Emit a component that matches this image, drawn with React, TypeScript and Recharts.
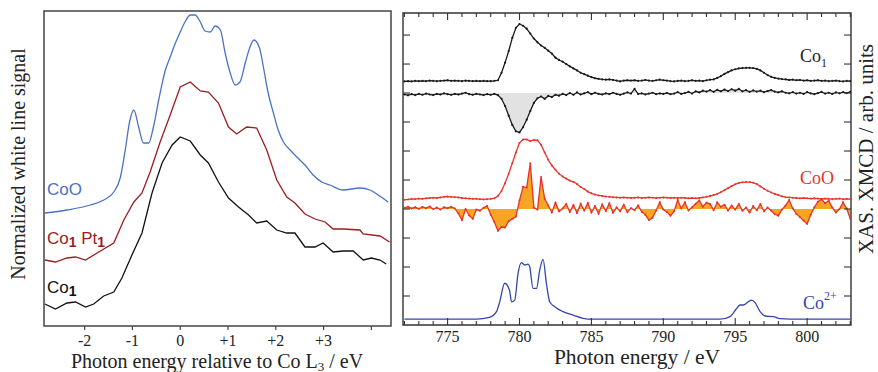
import React from 'react';
import { LineChart, ComposedChart, Line, Area, XAxis, YAxis, ReferenceArea } from 'recharts';

const SERIF = '"Liberation Serif", "Times New Roman", serif';
const SANS = '"Liberation Sans", Arial, sans-serif';

// ---------- Left panel: white line signal vs energy relative to Co L3 ----------
const leftDomainX = [-2.85, 4.41];
const leftDomainY = [0, 3.15];
const leftTicks = [-2, -1, 0, 1, 2, 3, 4];

const coOShift = [-2.83, -2.37, -1.88, -1.6, -1.39, -1.25, -1.15, -1.06, -0.97, -0.87, -0.77, -0.66, -0.56, -0.45, -0.31, -0.21, -0.1, 0, 0.1, 0.21, 0.31, 0.42, 0.52, 0.63, 0.73, 0.84, 0.94, 1.04, 1.15, 1.25, 1.36, 1.46, 1.54, 1.66, 1.74, 1.84, 1.95, 2.05, 2.16, 2.3, 2.44, 2.61, 2.78, 2.96, 3.13, 3.41, 3.76, 3.97, 4.14, 4.35];
const coOSignal = [1.13, 1.16, 1.21, 1.26, 1.34, 1.49, 1.76, 2.04, 2.16, 1.99, 1.83, 1.83, 1.99, 2.26, 2.56, 2.69, 2.83, 2.94, 3.04, 3.11, 3.11, 3.04, 2.95, 2.94, 3.0, 2.96, 2.73, 2.54, 2.41, 2.44, 2.63, 2.79, 2.86, 2.78, 2.59, 2.33, 2.13, 1.96, 1.84, 1.76, 1.69, 1.61, 1.51, 1.44, 1.41, 1.36, 1.38, 1.36, 1.31, 1.24];

const coPtShift = [-2.83, -2.61, -2.37, -2.19, -1.98, -1.74, -1.39, -1.18, -0.97, -0.8, -0.63, -0.42, -0.21, 0, 0.21, 0.42, 0.59, 0.8, 1.01, 1.18, 1.39, 1.6, 1.81, 2.02, 2.23, 2.4, 2.61, 2.82, 3.03, 3.2, 3.41, 3.76, 3.83, 4.18, 4.38];
const coPtSignal = [0.66, 0.64, 0.68, 0.69, 0.66, 0.73, 0.83, 1.06, 1.24, 1.33, 1.54, 1.84, 2.11, 2.39, 2.44, 2.35, 2.34, 2.23, 1.99, 1.92, 1.99, 1.98, 1.76, 1.46, 1.29, 1.23, 1.12, 1.07, 1.04, 0.97, 0.97, 0.96, 0.92, 0.9, 0.84];

const co1Shift = [-2.83, -2.61, -2.37, -2.19, -1.98, -1.81, -1.6, -1.39, -1.22, -1.01, -0.8, -0.59, -0.38, -0.17, 0, 0.21, 0.42, 0.59, 0.8, 1.01, 1.22, 1.43, 1.6, 1.81, 2.02, 2.23, 2.4, 2.61, 2.82, 2.99, 3.2, 3.41, 3.62, 3.83, 4.0, 4.18, 4.31];
const co1Signal = [0.22, 0.17, 0.23, 0.24, 0.19, 0.22, 0.3, 0.34, 0.48, 0.71, 0.93, 1.33, 1.63, 1.81, 1.89, 1.85, 1.71, 1.63, 1.44, 1.28, 1.19, 1.11, 1.03, 1.05, 0.96, 0.93, 0.93, 0.79, 0.79, 0.83, 0.74, 0.75, 0.75, 0.66, 0.68, 0.66, 0.62];

// ---------- Right panel: XAS / XMCD vs photon energy ----------
const rightDomainX = [771.9, 803.05];
const rightDomainY = [0, 10.76];

const energyGrid = [
  772, 772.25, 772.5, 772.75, 773, 773.25, 773.5, 773.75,
  774, 774.25, 774.5, 774.75, 775, 775.25, 775.5, 775.75,
  776, 776.25, 776.5, 776.75, 777, 777.25, 777.5, 777.75,
  778, 778.25, 778.5, 778.75, 779, 779.25, 779.5, 779.75,
  780, 780.25, 780.5, 780.75, 781, 781.25, 781.5, 781.75,
  782, 782.25, 782.5, 782.75, 783, 783.25, 783.5, 783.75,
  784, 784.25, 784.5, 784.75, 785, 785.25, 785.5, 785.75,
  786, 786.25, 786.5, 786.75, 787, 787.25, 787.5, 787.75,
  788, 788.25, 788.5, 788.75, 789, 789.25, 789.5, 789.75,
  790, 790.25, 790.5, 790.75, 791, 791.25, 791.5, 791.75,
  792, 792.25, 792.5, 792.75, 793, 793.25, 793.5, 793.75,
  794, 794.25, 794.5, 794.75, 795, 795.25, 795.5, 795.75,
  796, 796.25, 796.5, 796.75, 797, 797.25, 797.5, 797.75,
  798, 798.25, 798.5, 798.75, 799, 799.25, 799.5, 799.75,
  800, 800.25, 800.5, 800.75, 801, 801.25, 801.5, 801.75,
  802, 802.25, 802.5, 802.75, 803,
];

const co1Xas = [
  8.40, 8.41, 8.40, 8.42, 8.41, 8.42, 8.41, 8.43,
  8.42, 8.41, 8.42, 8.43, 8.44, 8.42, 8.43, 8.42,
  8.41, 8.43, 8.42, 8.41, 8.42, 8.41, 8.42, 8.41,
  8.41, 8.42, 8.44, 8.70, 9.05, 9.45, 9.90, 10.25,
  10.38, 10.32, 10.22, 10.05, 9.88, 9.75, 9.64, 9.56,
  9.46, 9.36, 9.22, 9.14, 9.08, 9.00, 8.92, 8.85,
  8.78, 8.70, 8.65, 8.60, 8.55, 8.51, 8.49, 8.47,
  8.46, 8.47, 8.45, 8.43, 8.40, 8.43, 8.44, 8.43,
  8.44, 8.42, 8.43, 8.45, 8.43, 8.42, 8.44, 8.46,
  8.44, 8.43, 8.41, 8.40, 8.42, 8.43, 8.41, 8.42,
  8.44, 8.42, 8.43, 8.41, 8.44, 8.46, 8.47, 8.52,
  8.58, 8.66, 8.72, 8.78, 8.82, 8.85, 8.86, 8.87,
  8.87, 8.86, 8.83, 8.78, 8.70, 8.62, 8.56, 8.52,
  8.50, 8.48, 8.47, 8.45, 8.46, 8.44, 8.45, 8.43,
  8.44, 8.42, 8.43, 8.44, 8.42, 8.43, 8.41, 8.42,
  8.43, 8.41, 8.40, 8.42, 8.41,
];
const co1Xmcd = [
  7.95, 7.92, 7.96, 7.93, 7.97, 7.94, 7.98, 7.95,
  7.93, 7.97, 7.95, 7.99, 7.96, 7.94, 7.97, 7.95,
  7.98, 8.01, 7.96, 7.94, 7.97, 7.95, 7.93, 7.96,
  7.94, 7.97, 7.93, 7.80, 7.55, 7.22, 6.90, 6.68,
  6.64, 6.82, 7.08, 7.38, 7.66, 7.82, 7.88, 7.80,
  7.90, 7.86, 7.94, 7.91, 7.97, 7.93, 8.00, 7.94,
  8.02, 7.95, 7.99, 8.03, 7.96, 8.01, 7.97, 7.95,
  7.99, 7.96, 8.01, 7.97, 7.94, 7.98, 8.02, 7.98,
  8.14, 7.97, 7.99, 7.95, 7.98, 8.01, 7.96, 7.99,
  7.97, 8.00, 7.96, 7.98, 8.03, 7.97, 8.00, 8.04,
  7.98, 8.06, 8.02, 8.08, 8.05, 8.10, 8.04, 8.11,
  8.06, 8.12, 8.07, 8.13, 8.08, 8.14, 8.06, 8.10,
  8.04, 8.09, 8.05, 8.08, 8.03, 8.07, 8.10, 8.05,
  8.02, 8.06, 8.01, 7.99, 8.03, 7.98, 8.01, 7.97,
  8.03, 7.99, 7.96, 8.00, 8.04, 7.98, 8.01, 7.97,
  8.02, 7.99, 8.03, 8.00, 8.04,
];
const coOXas = [
  4.32, 4.33, 4.35, 4.34, 4.36, 4.35, 4.37, 4.38,
  4.39, 4.38, 4.40, 4.42, 4.43, 4.42, 4.41, 4.40,
  4.38, 4.37, 4.36, 4.35, 4.35, 4.34, 4.33, 4.34,
  4.35, 4.37, 4.45, 4.62, 4.90, 5.22, 5.58, 5.95,
  6.28, 6.40, 6.40, 6.34, 6.38, 6.37, 6.22, 5.95,
  5.70, 5.50, 5.35, 5.22, 5.12, 5.05, 4.98, 4.94,
  4.86, 4.76, 4.69, 4.60, 4.54, 4.50, 4.47, 4.45,
  4.43, 4.42, 4.41, 4.40, 4.39, 4.40, 4.39, 4.38,
  4.39, 4.40, 4.38, 4.39, 4.40, 4.39, 4.38, 4.39,
  4.40, 4.39, 4.38, 4.39, 4.38, 4.39, 4.38, 4.37,
  4.38, 4.37, 4.38, 4.40, 4.42, 4.45, 4.48, 4.52,
  4.58, 4.65, 4.72, 4.79, 4.85, 4.90, 4.92, 4.93,
  4.93, 4.91, 4.86, 4.78, 4.70, 4.63, 4.57, 4.52,
  4.48, 4.44, 4.41, 4.40, 4.39, 4.38, 4.37, 4.38,
  4.37, 4.36, 4.37, 4.36, 4.35, 4.36, 4.35, 4.34,
  4.35, 4.36, 4.34, 4.35, 4.34,
];
const coOXmcd = [
  4.04, 4.08, 4.02, 4.06, 4.01, 4.07, 4.03, 4.09,
  4.00, 4.05, 3.98, 4.06, 4.03, 4.08, 4.02, 3.85,
  3.62, 4.00, 3.78, 3.66, 3.98, 3.94, 4.04, 4.11,
  3.80, 3.55, 3.25, 3.38, 3.36, 3.58, 3.66, 3.74,
  4.30, 4.77, 4.74, 5.58, 4.05, 3.98, 5.10, 4.35,
  4.12, 3.88, 4.22, 3.92, 4.02, 4.17, 3.90, 4.14,
  3.86, 4.18, 3.95, 4.21, 3.88, 4.10, 3.84, 4.16,
  3.93, 4.20, 3.87, 4.06, 3.92, 4.15, 3.89, 4.03,
  3.96, 4.12, 3.90, 3.80, 3.62, 3.70, 3.95, 4.23,
  3.98, 3.90, 3.77, 3.92, 4.31, 4.02, 4.23, 3.95,
  4.06, 4.18, 4.29, 4.08, 4.22, 4.17, 3.96, 4.23,
  4.08, 4.15, 3.95, 4.12, 3.98, 4.17, 3.94, 4.05,
  3.88, 4.10, 3.96, 4.17, 3.92, 4.05, 3.95, 3.82,
  3.77, 3.98, 4.12, 4.31, 4.02, 3.83, 3.72, 3.60,
  3.49, 3.80, 4.06, 4.25, 4.34, 4.20, 4.29, 4.05,
  3.88, 4.00, 4.23, 4.02, 3.66,
];
const co1Baseline = 8.0;
const coOBaseline = 4.0;

const co2Energy = [772, 777, 777.9, 778.4, 778.6, 778.97, 779.3, 779.45, 779.67, 779.9, 780.13, 780.36, 780.6, 780.71, 780.94, 781.18, 781.41, 781.64, 781.87, 782.1, 782.45, 783.03, 783.73, 784.42, 785.12, 793.94, 794.64, 795.1, 795.33, 795.56, 795.91, 796.15, 796.38, 796.73, 797.08, 797.65, 798.12, 799.5, 803];
const co2Xas = [0.2, 0.2, 0.26, 0.46, 0.75, 1.44, 1.21, 0.8, 0.86, 1.78, 2.15, 2.07, 2.1, 2.01, 1.26, 1.26, 1.9, 2.26, 1.44, 0.8, 0.63, 0.46, 0.34, 0.23, 0.2, 0.2, 0.29, 0.57, 0.69, 0.69, 0.8, 0.86, 0.77, 0.46, 0.31, 0.29, 0.22, 0.2, 0.2];

const rightXTicks = [772, 773, 774, 775, 776, 777, 778, 779, 780, 781, 782, 783, 784, 785, 786, 787, 788, 789, 790, 791, 792, 793, 794, 795, 796, 797, 798, 799, 800, 801, 802, 803];
const rightYTicks = [1, 2, 3, 4, 5, 6, 7, 8, 9, 10];

// ---------- tables built from the arrays ----------
const pairs = (xs: number[], ys: number[]) => xs.map((x, i) => ({ x, y: ys[i] }));
const coOLeft = pairs(coOShift, coOSignal);
const coPtLeft = pairs(coPtShift, coPtSignal);
const co1Left = pairs(co1Shift, co1Signal);

const co1XasData = energyGrid.map((e, i) => ({ e, v: co1Xas[i] }));
const co1XmcdData = energyGrid.map((e, i) => ({ e, v: co1Xmcd[i], band: [co1Baseline, co1Xmcd[i]] }));
const coOXasData = energyGrid.map((e, i) => ({ e, v: coOXas[i] }));
const coOXmcdData = energyGrid.map((e, i) => ({ e, v: coOXmcd[i], band: [coOBaseline, coOXmcd[i]] }));
const co2Data = co2Energy.map((e, i) => ({ e, v: co2Xas[i] }));

const AX = '#444';
const AXR = '#333';

// layout constants (svg coordinates of the right chart)
const R_MARGIN_TOP = 13;
const R_AXIS_H = 47;
const R_HEIGHT = 372;

const LeftTick = (props: any) => {
  const { x, y, payload } = props;
  const v = payload.value;
  const label = v === 4 ? '' : v > 0 ? `+${v}` : `${v}`;
  return (
    <g>
      <line x1={x} x2={x} y1={y} y2={y + 4} stroke={AX} strokeWidth={1.2} />
      {label && (
        <text x={x} y={y + 19.5} textAnchor="middle" fontFamily={SERIF} fontSize={16} fill="#222">
          {label}
        </text>
      )}
    </g>
  );
};

// bottom axis tick: inward tick at the bottom, mirrored inward tick on the top frame, label for majors
const RBottomTick = (props: any) => {
  const { x, y, payload } = props;
  const major = payload.value % 5 === 0;
  const len = major ? 7 : 4;
  const plotTop = y - (R_HEIGHT - R_AXIS_H - R_MARGIN_TOP);
  return (
    <g>
      <line x1={x} x2={x} y1={y} y2={y - len} stroke={AXR} strokeWidth={1.1} />
      <line x1={x} x2={x} y1={plotTop} y2={plotTop + len} stroke={AXR} strokeWidth={1.1} />
      {major && (
        <text x={x} y={y + 17} textAnchor="middle" fontFamily={SERIF} fontSize={16} fill="#222">
          {payload.value}
        </text>
      )}
    </g>
  );
};
const RLeftTick = (props: any) => {
  const { x, y } = props;
  return <line x1={x} x2={x + 7} y1={y} y2={y} stroke={AXR} strokeWidth={1.1} />;
};
const RRightTick = (props: any) => {
  const { x, y } = props;
  return <line x1={x} x2={x - 7} y1={y} y2={y} stroke={AXR} strokeWidth={1.1} />;
};

export default function App() {
  return (
    <div style={{ position: 'absolute', left: 0, top: 0, width: 878, height: 372, background: '#fff', overflow: 'hidden' }}>
      <div style={{ position: 'absolute', left: 0, top: 0 }}>
        <LineChart width={400} height={372} margin={{ top: 11, right: 9, bottom: 0, left: 44 }}>
          <XAxis
            xAxisId="b"
            type="number"
            dataKey="x"
            domain={leftDomainX}
            ticks={leftTicks}
            interval={0}
            height={46}
            tickSize={0}
            tickMargin={0}
            tickLine={false}
            tick={LeftTick}
            axisLine={false}
            allowDataOverflow
          />
          <YAxis yAxisId="l" type="number" domain={leftDomainY} hide allowDataOverflow />
          <ReferenceArea
            xAxisId="b"
            yAxisId="l"
            x1={leftDomainX[0]}
            x2={leftDomainX[1]}
            y1={leftDomainY[0]}
            y2={leftDomainY[1]}
            fill="none"
            fillOpacity={0}
            stroke={AX}
            strokeWidth={1.5}
            ifOverflow="visible"
          />
          <Line xAxisId="b" yAxisId="l" data={coOLeft} dataKey="y" type="monotone" stroke="#4a72c4" strokeWidth={1.3} dot={false} isAnimationActive={false} />
          <Line xAxisId="b" yAxisId="l" data={coPtLeft} dataKey="y" type="linear" stroke="#9b1d1d" strokeWidth={1.3} dot={false} isAnimationActive={false} />
          <Line xAxisId="b" yAxisId="l" data={co1Left} dataKey="y" type="linear" stroke="#111" strokeWidth={1.3} dot={false} isAnimationActive={false} />
          <text x={47} y={195} fontFamily={SANS} fontSize={17} fill="#4a72c4">CoO</text>
          <text x={47} y={244} fontFamily={SANS} fontSize={17} fill="#9b1d1d">
            Co<tspan fontSize={14} fontWeight="bold" dy={3}>1</tspan>
            <tspan dy={-3}> Pt</tspan>
            <tspan fontSize={14} fontWeight="bold" dy={3}>1</tspan>
          </text>
          <text x={47} y={293} fontFamily={SANS} fontSize={17} fill="#111">
            Co<tspan fontSize={14} fontWeight="bold" dy={3}>1</tspan>
          </text>
          <text transform="translate(25,164) rotate(-90)" textAnchor="middle" fontFamily={SERIF} fontSize={20} fill="#222">
            Normalized white line signal
          </text>
          <text x={217} y={367.5} textAnchor="middle" fontFamily={SERIF} fontSize={20} fill="#222">
            Photon energy relative to Co L<tspan fontSize={13} dy={3}>3</tspan>
            <tspan dy={-3}> / eV</tspan>
          </text>
        </LineChart>
      </div>
      <div style={{ position: 'absolute', left: 400, top: 0 }}>
        <ComposedChart width={478} height={R_HEIGHT} margin={{ top: R_MARGIN_TOP, right: 26, bottom: 0, left: 2 }}>
          <XAxis
            xAxisId="b"
            type="number"
            dataKey="e"
            domain={rightDomainX}
            ticks={rightXTicks}
            interval={0}
            height={R_AXIS_H}
            tickSize={0}
            tickMargin={0}
            tickLine={false}
            tick={RBottomTick}
            axisLine={false}
            allowDataOverflow
          />
          <YAxis yAxisId="l" type="number" domain={rightDomainY} ticks={rightYTicks} interval={0} width={1} tickSize={0} tickMargin={0} tickLine={false} tick={RLeftTick} axisLine={false} allowDataOverflow />
          <YAxis yAxisId="r" orientation="right" type="number" domain={rightDomainY} ticks={rightYTicks} interval={0} width={1} tickSize={0} tickMargin={0} tickLine={false} tick={RRightTick} axisLine={false} allowDataOverflow />
          <Area xAxisId="b" yAxisId="l" data={co1XmcdData} dataKey="band" type="linear" stroke="none" fill="#e2e2e2" fillOpacity={1} isAnimationActive={false} />
          <Area xAxisId="b" yAxisId="l" data={coOXmcdData} dataKey="band" type="linear" stroke="none" fill="#f6a623" fillOpacity={1} isAnimationActive={false} />
          <Line xAxisId="b" yAxisId="l" data={co1XasData} dataKey="v" type="linear" stroke="#1a1a1a" strokeWidth={1.3} dot={{ r: 1.1, fill: '#1a1a1a', stroke: 'none' }} isAnimationActive={false} />
          <Line xAxisId="b" yAxisId="l" data={co1XmcdData} dataKey="v" type="linear" stroke="#1a1a1a" strokeWidth={1.3} dot={{ r: 1.1, fill: '#1a1a1a', stroke: 'none' }} isAnimationActive={false} />
          <Line xAxisId="b" yAxisId="l" data={coOXasData} dataKey="v" type="linear" stroke="#e8322b" strokeWidth={1.3} dot={{ r: 1.0, fill: '#e8322b', stroke: 'none' }} isAnimationActive={false} />
          <Line xAxisId="b" yAxisId="l" data={coOXmcdData} dataKey="v" type="linear" stroke="#e8322b" strokeWidth={1.3} dot={{ r: 1.0, fill: '#e8322b', stroke: 'none' }} isAnimationActive={false} />
          <Line xAxisId="b" yAxisId="l" data={co2Data} dataKey="v" type="monotone" stroke="#3446b0" strokeWidth={1.3} dot={false} isAnimationActive={false} />
          <ReferenceArea
            xAxisId="b"
            yAxisId="l"
            x1={rightDomainX[0]}
            x2={rightDomainX[1]}
            y1={rightDomainY[0]}
            y2={rightDomainY[1]}
            fill="none"
            fillOpacity={0}
            stroke={AXR}
            strokeWidth={1.4}
            ifOverflow="visible"
          />
          <text x={400} y={62} fontFamily={SERIF} fontSize={18} fill="#222">
            Co<tspan fontSize={12} dy={5}>1</tspan>
          </text>
          <text x={400} y={184} fontFamily={SERIF} fontSize={18} fill="#e8322b">CoO</text>
          <text x={403} y={309} fontFamily={SERIF} fontSize={18} fill="#3446b0">
            Co<tspan fontSize={12} dy={-9}>2+</tspan>
          </text>
          <text x={237} y={364} textAnchor="middle" fontFamily={SERIF} fontSize={21.5} fill="#222">
            Photon energy / eV
          </text>
          <text transform="translate(473,149) rotate(-90)" textAnchor="middle" fontFamily={SERIF} fontSize={21} fill="#222">
            XAS. XMCD / arb. units
          </text>
        </ComposedChart>
      </div>
    </div>
  );
}
